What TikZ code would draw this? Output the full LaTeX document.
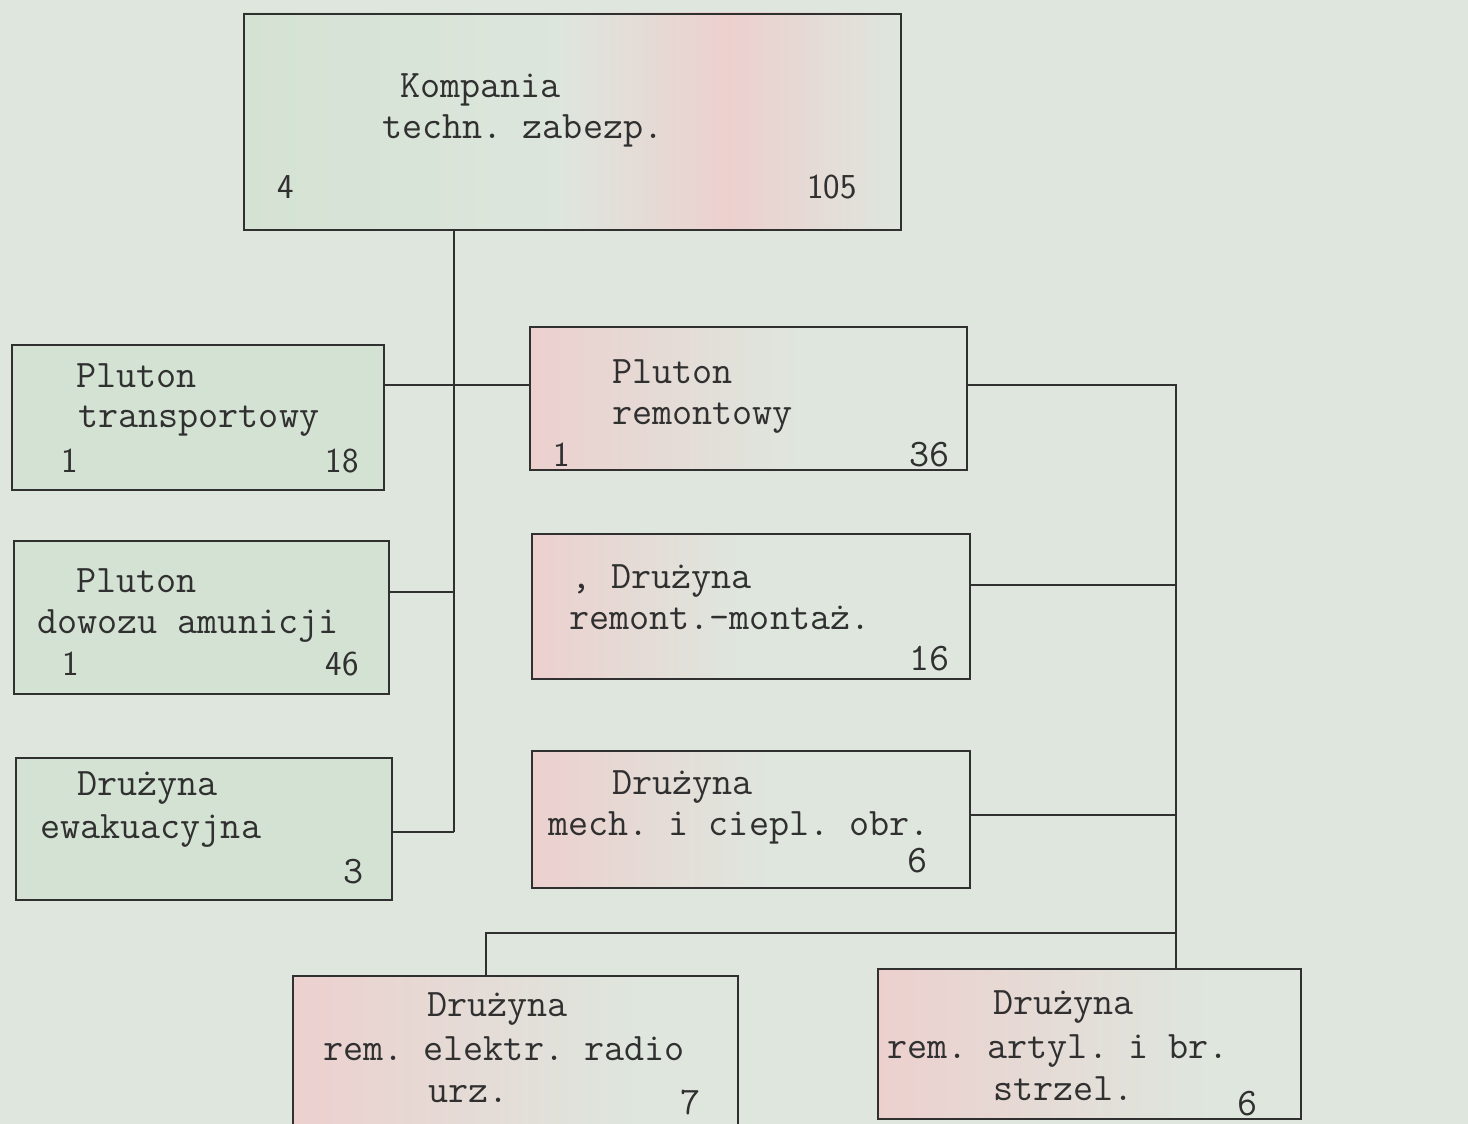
\documentclass[tikz,border=0pt]{standalone}
\usetikzlibrary{calc}
\definecolor{paper}{RGB}{222,230,222}
\definecolor{greenish}{RGB}{212,226,211}
\definecolor{pinkish}{RGB}{236,208,206}
\definecolor{ink}{RGB}{48,48,48}
\begin{document}
\frenchspacing
\begin{tikzpicture}[x=1pt,y=-1pt,
  box/.style={draw=ink, line width=1.8pt, rectangle, inner sep=0pt, anchor=north west},
  conn/.style={draw=ink, line width=1.5pt},
  txt/.style={anchor=base west, inner sep=0pt, text=ink, font=\fontsize{39}{44}\selectfont\ttfamily\frenchspacing},
  txte/.style={txt, anchor=base east},
  num/.style={anchor=base west, inner sep=0pt, text=ink, font=\fontsize{35}{40}\selectfont\sffamily},
  nume/.style={num, anchor=base east}
]
\useasboundingbox (0,0) rectangle (1468,1124);
\clip (0,0) rectangle (1468,1124);
\fill[paper] (0,0) rectangle (1468,1124);

% tints
\fill[greenish] (11,344) rectangle (383,489);
\fill[greenish] (13,540) rectangle (388,693);
\fill[greenish] (15,757) rectangle (391,899);
\shade[left color=greenish, right color=paper] (243,13) rectangle (600,229);
\shade[left color=paper, right color=paper, middle color=pinkish] (560,13) rectangle (900,229);
\shade[left color=pinkish, right color=paper] (529,326) rectangle (800,469);
\shade[left color=pinkish, right color=paper] (531,533) rectangle (740,678);
\shade[left color=pinkish, right color=paper] (531,750) rectangle (770,887);
\shade[left color=pinkish, right color=paper] (292,975) rectangle (640,1124);
\shade[left color=pinkish, right color=paper] (877,968) rectangle (1210,1118);

% boxes
\node[box, minimum width=657pt, minimum height=216pt] (top) at (243,13) {};
\node[box, minimum width=372pt, minimum height=145pt] (trans) at (11,344) {};
\node[box, minimum width=375pt, minimum height=153pt] (dowoz) at (13,540) {};
\node[box, minimum width=376pt, minimum height=142pt] (ewak) at (15,757) {};
\node[box, minimum width=437pt, minimum height=143pt] (remont) at (529,326) {};
\node[box, minimum width=438pt, minimum height=145pt] (montaz) at (531,533) {};
\node[box, minimum width=438pt, minimum height=137pt] (mech) at (531,750) {};
\node[box, minimum width=445pt, minimum height=175pt] (elektr) at (292,975) {};
\node[box, minimum width=423pt, minimum height=150pt] (artyl) at (877,968) {};

% connectors
\coordinate (L1) at (454,385);
\coordinate (L2) at (454,592);
\coordinate (L3) at (454,832);
\coordinate (R1) at (1176,385);
\coordinate (R2) at (1176,585);
\coordinate (R3) at (1176,815);
\coordinate (R4) at (1176,933);
\coordinate (E1) at (486,933);
\draw[conn] (top.south -| L1) -- (L3);
\draw[conn] (trans.east |- L1) -- (remont.west |- L1);
\draw[conn] (dowoz.east |- L2) -- (L2);
\draw[conn] (ewak.east |- L3) -- (L3);
\draw[conn] (remont.east |- R1) -- (R1) -- (artyl.north -| R1);
\draw[conn] (montaz.east |- R2) -- (R2);
\draw[conn] (mech.east |- R3) -- (R3);
\draw[conn] (R4) -- (E1) -- (elektr.north -| E1);

% texts: top
\node[txt] (t1) at (400,97) {Kompania};
\node[txt] (t2) at (382,138) {techn. zabezp.};
\node[num] (t3) at (277,198) {4};
\node[nume] (t4) at (857,198) {105};
% transport
\node[txt] (t5) at (76,387) {Pluton};
\node[txt] (t6) at (78,427) {transportowy};
\node[num] (t7) at (61,472) {1};
\node[nume] (t8) at (359,472) {18};
% dowoz
\node[txt] (t9) at (76,592) {Pluton};
\node[txt] (t10) at (37,633) {dowozu amunicji};
\node[num] (t11) at (62,675) {1};
\node[nume] (t12) at (359,675) {46};
% ewak
\node[txt] (t13) at (77,795) {Drużyna};
\node[txt] (t14) at (40,838) {ewakuacyjna};
\node[txt] (t15) at (343,883) {3};
% remont
\node[txt] (t16) at (612,383) {Pluton};
\node[txt] (t17) at (612,424) {remontowy};
\node[num] (t18) at (553,466) {1};
\node[txte] (t19) at (950,466) {36};
% montaz
\node[txt] (t20) at (571,588) {, Drużyna};
\node[txt] (t21) at (569,629) {remont.-montaż.};
\node[txte] (t22) at (950,670) {16};
% mech
\node[txt] (t23) at (612,794) {Drużyna};
\node[txt] (t24) at (548,835) {mech. i ciepl. obr.};
\node[txte] (t25) at (928,872) {6};
% elektr
\node[txt] (t26) at (427,1016) {Drużyna};
\node[txt] (t27) at (323,1060) {rem. elektr. radio};
\node[txt] (t28) at (428,1102) {urz.};
\node[txt] (t29) at (680,1114) {7};
% artyl
\node[txt] (t30) at (993,1014) {Drużyna};
\node[txt] (t31) at (887,1058) {rem. artyl. i br.};
\node[txt] (t32) at (993,1100) {strzel.};
\node[txt] (t33) at (1237,1115) {6};
\end{tikzpicture}
\end{document}
